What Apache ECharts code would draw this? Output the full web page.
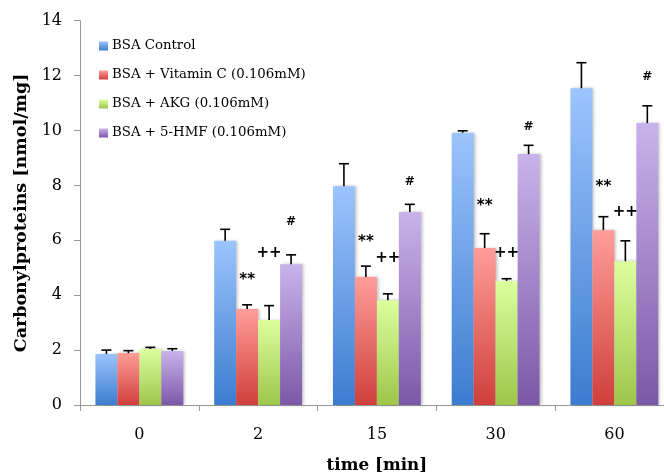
<!DOCTYPE html>
<html><head><meta charset="utf-8">
<script src="https://cdn.jsdelivr.net/npm/echarts@6/dist/echarts.min.js"></script>
<style>html,body{margin:0;padding:0;background:#fff}#c{width:664px;height:475px}</style>
</head><body><div id="c"></div>
<script>
const categories = ['0', '2', '15', '30', '60'];
const seriesNames = ['BSA Control', 'BSA + Vitamin C (0.106mM)', 'BSA + AKG (0.106mM)', 'BSA + 5-HMF (0.106mM)'];
const control = [1.86, 5.98, 7.97, 9.92, 11.54];
const controlErr = [0.14, 0.42, 0.82, 0.07, 0.93];
const vitC = [1.89, 3.50, 4.66, 5.72, 6.37];
const vitCErr = [0.09, 0.15, 0.40, 0.52, 0.49];
const akg = [2.04, 3.10, 3.82, 4.52, 5.24];
const akgErr = [0.06, 0.52, 0.23, 0.08, 0.74];
const hmf = [1.97, 5.13, 7.03, 9.14, 10.27];
const hmfErr = [0.08, 0.34, 0.28, 0.32, 0.63];
const controlMark = ['', '', '', '', ''];
const vitCMark = ['', '**', '**', '**', '**'];
const akgMark = ['', '++', '++', '++', '++'];
const hmfMark = ['', '#', '#', '#', '#'];
const controlMarkY = [0, 0, 0, 0, 0];
const vitCMarkY = [0, 4.55, 5.95, 7.25, 7.93];
const akgMarkY = [0, 5.54, 5.35, 5.54, 7.02];
const hmfMarkY = [0, 6.68, 8.12, 10.13, 11.96];
const yTicks = [0, 2, 4, 6, 8, 10, 12, 14];

const values = [control, vitC, akg, hmf];
const errs = [controlErr, vitCErr, akgErr, hmfErr];
const marks = [controlMark, vitCMark, akgMark, hmfMark];
const markYs = [controlMarkY, vitCMarkY, akgMarkY, hmfMarkY];
const grads = [['#9cc4fd', '#3c7ccf'], ['#ff9d99', '#cf3f3b'], ['#ddff9e', '#9dc64a'], ['#c9b3eb', '#7c58a8']];
const gapPct = 0.26;

const chart = echarts.init(document.getElementById('c'));
const series = [];
values.forEach((vals, si) => {
  series.push({
    name: seriesNames[si], type: 'bar', data: vals, barGap: '0%', barCategoryGap: (gapPct * 100) + '%',
    itemStyle: {
      color: new echarts.graphic.LinearGradient(0, 0, 0, 1, [{offset: 0, color: grads[si][0]}, {offset: 1, color: grads[si][1]}]),
      shadowColor: 'rgba(0,0,0,0.25)', shadowBlur: 3, shadowOffsetX: 2, shadowOffsetY: 0
    },
    z: 2
  });
});
values.forEach((vals, si) => {
  series.push({
    type: 'custom', silent: true, z: 5,
    data: vals.map((v, i) => [i, v, v + errs[si][i], markYs[si][i]]),
    renderItem: function (params, api) {
      const i = api.value(0);
      const band = api.size([1, 0])[0];
      const bw = band * (1 - gapPct) / 4;
      const base = api.coord([i, api.value(1)]);
      const x = base[0] + (si - 1.5) * bw;
      const top = api.coord([i, api.value(2)])[1];
      const children = [
        {type: 'line', shape: {x1: x, y1: base[1], x2: x, y2: top}, style: {stroke: '#000', lineWidth: 1.6}},
        {type: 'line', shape: {x1: x - 5, y1: top, x2: x + 5, y2: top}, style: {stroke: '#000', lineWidth: 1.6}}
      ];
      const m = marks[si][i];
      if (m) {
        const my = api.coord([i, api.value(3)])[1];
        children.push({type: 'text', style: {text: m, x: x, y: my, align: 'center', verticalAlign: 'middle',
          font: m === '#' ? 'bold 12px "DejaVu Sans"' : 'bold 15px "DejaVu Sans"', fill: '#000'}});
      }
      return {type: 'group', children: children};
    }
  });
});

chart.setOption({
  animation: false,
  backgroundColor: '#fff',
  grid: {left: 80, top: 20.7, bottom: 70, right: -9.75, containLabel: false, outerBoundsMode: 'none'},
  legend: {
    data: seriesNames, orient: 'vertical', left: 94, top: 33,
    itemWidth: 9, itemHeight: 9, itemGap: 13, icon: 'rect',
    textStyle: {fontFamily: 'DejaVu Serif', fontSize: 13.3, color: '#000', lineHeight: 16, padding: [0, 0, 0, -1]}
  },
  xAxis: {
    type: 'category', data: categories,
    axisLine: {lineStyle: {color: '#999', width: 1}},
    axisTick: {show: true, length: 6, lineStyle: {color: '#999'}},
    axisLabel: {fontFamily: 'DejaVu Serif', fontSize: 16, color: '#000', margin: 22},
    name: 'time [min]', nameLocation: 'middle', nameGap: 52,
    nameTextStyle: {fontFamily: 'DejaVu Serif', fontSize: 16.8, fontWeight: 'bold', color: '#000'}
  },
  yAxis: {
    type: 'value', min: 0, max: 14, interval: 2,
    axisLine: {show: true, lineStyle: {color: '#999', width: 1}},
    axisTick: {show: true, length: 6, lineStyle: {color: '#999'}},
    splitLine: {show: false},
    axisLabel: {fontFamily: 'DejaVu Serif', fontSize: 16, color: '#000', margin: 18,
      formatter: v => yTicks.includes(v) ? String(v) : ''},
    name: 'Carbonylproteins [nmol/mg]', nameLocation: 'middle', nameGap: 48,
    nameTextStyle: {fontFamily: 'DejaVu Serif', fontSize: 17.5, fontWeight: 'bold', color: '#000'}
  },
  series: series
});
</script></body></html>
